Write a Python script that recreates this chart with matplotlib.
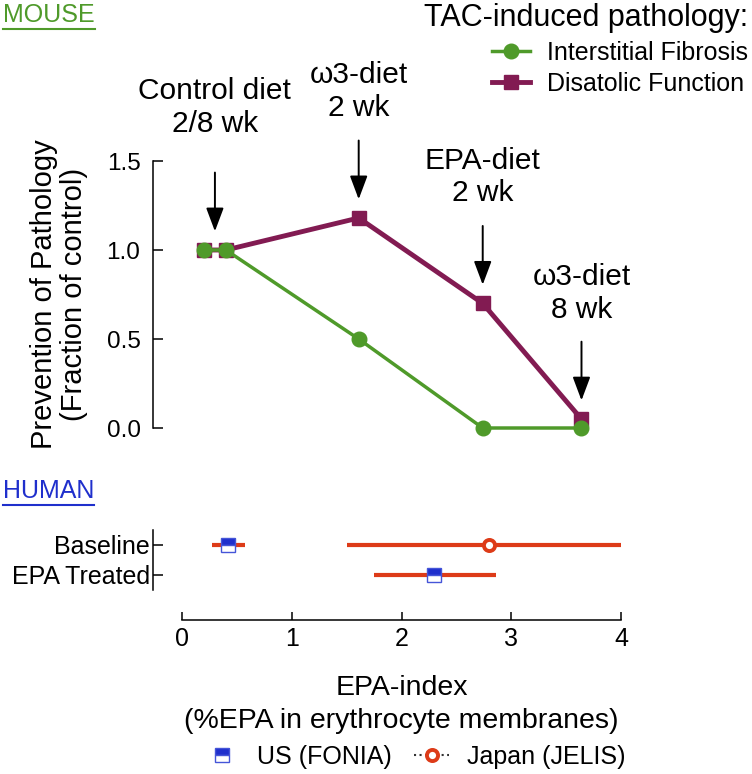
import matplotlib
matplotlib.use('Agg')
import matplotlib.pyplot as plt
from matplotlib.lines import Line2D

plt.rcParams['font.family'] = ['Liberation Sans', 'DejaVu Sans']

# mouse data (EPA-index vs fraction of control)
epa_mouse = [0.2, 0.4, 1.61, 2.74, 3.64]
fibrosis = [1.0, 1.0, 0.5, 0.0, 0.0]
diastolic = [1.0, 1.0, 1.18, 0.70, 0.05]

diet_labels = ['Control diet\n2/8 wk', 'ω3-diet\n2 wk', 'EPA-diet\n2 wk', 'ω3-diet\n8 wk']
diet_x = [0.3, 1.61, 2.74, 3.64]
diet_y = [1.0, 1.18, 0.70, 0.05]

# human data
groups = ['Baseline', 'EPA Treated']
us_mean = [0.42, 2.30]
us_low = [0.27, 1.75]
us_high = [0.57, 2.86]
jp_groups = ['Baseline']
jp_mean = [2.80]
jp_low = [1.50]
jp_high = [4.00]

green = '#4F9A2A'
purple = '#821B52'
red = '#DD3B18'
blue = '#1F2FCC'

W, H = 752, 774
fig = plt.figure(figsize=(W / 100, H / 100), dpi=100)

xl = (-0.2642, 4.2642)

# ---- mouse panel
ax1 = fig.add_axes([153 / W, 1 - 445.8 / H, 497 / W, 302.6 / H])
ax1.plot(epa_mouse, diastolic, color=purple, lw=3.5, marker='s', ms=10.5,
         label='Disatolic Function', zorder=3)
ax1.plot(epa_mouse, fibrosis, color=green, lw=2.5, marker='o', ms=10.5,
         label='Interstitial Fibrosis', zorder=4)
ax1.set_xlim(xl)
ax1.set_ylim(-0.1, 1.6)
ax1.set_yticks([0, 0.5, 1.0, 1.5])
ax1.set_yticklabels(['0.0', '0.5', '1.0', '1.5'])
ax1.spines[['top', 'right', 'bottom']].set_visible(False)
ax1.spines['left'].set_bounds(0, 1.5)
ax1.spines['left'].set_linewidth(1.1)
ax1.tick_params(axis='y', direction='in', length=7, width=1.1, pad=9, labelsize=17.5)
ax1.set_xticks([])
ax1.set_ylabel('Prevention of Pathology\n(Fraction of control)', fontsize=21,
               linespacing=1.1)
ax1.yaxis.set_label_coords(-0.13, 0.5)

text_y = [1.63, 1.72, 1.24, 0.585]
for lab, x, y, ty in zip(diet_labels, diet_x, diet_y, text_y):
    head = y + 0.105
    ax1.annotate('', xy=(x, head), xytext=(x, head + 0.33),
                 arrowprops=dict(arrowstyle='-|>,head_length=0.8,head_width=0.3',
                                 mutation_scale=18, color='black', lw=1.4,
                                 shrinkA=0, shrinkB=0))
    ax1.text(x, ty, lab, ha='center', va='bottom', fontsize=21.5,
             linespacing=1.2)

leg1 = fig.legend(handles=[ax1.lines[1], ax1.lines[0]],
                  labels=['Interstitial Fibrosis', 'Disatolic Function'],
                  title='TAC-induced pathology:', title_fontsize=22, fontsize=18,
                  loc='upper right', bbox_to_anchor=(748 / W, 1 - 3 / H),
                  frameon=False, alignment='right', handlelength=1.5,
                  handletextpad=0.7, labelspacing=0.3, borderpad=0,
                  borderaxespad=0)

# ---- human panel
ax2 = fig.add_axes([153 / W, 1 - 620 / H, 497 / W, 90 / H])
us_pos = [groups.index(g) for g in groups]
jp_pos = [groups.index(g) for g in jp_groups]
ax2.errorbar(us_mean, us_pos,
             xerr=[[m - l for m, l in zip(us_mean, us_low)],
                   [h - m for m, h in zip(us_mean, us_high)]],
             fmt='none', ecolor=red, elinewidth=3, capsize=0, zorder=2)
ax2.errorbar(jp_mean, jp_pos,
             xerr=[[m - l for m, l in zip(jp_mean, jp_low)],
                   [h - m for m, h in zip(jp_mean, jp_high)]],
             fmt='none', ecolor=red, elinewidth=3, capsize=0, zorder=2)
ax2.plot(us_mean, us_pos, ls='none', marker='s', ms=9.5, fillstyle='top',
         markerfacecolor=blue, markerfacecoloralt='white',
         markeredgecolor='#4555D8', mew=1.0, zorder=3)
ax2.plot(jp_mean, jp_pos, ls='none', marker='o', ms=8, markerfacecolor='white',
         markeredgecolor=red, mew=2.8, zorder=3)
ax2.set_xlim(xl)
ax2.set_ylim(2.5, -0.5)
ax2.set_yticks(range(len(groups)))
ax2.set_yticklabels(groups)
ax2.spines[['top', 'right']].set_visible(False)
ax2.spines['left'].set_bounds(-0.5, 1.5)
ax2.spines['bottom'].set_bounds(0, 4)
for s in ['left', 'bottom']:
    ax2.spines[s].set_linewidth(1.1)
ax2.tick_params(axis='y', direction='in', length=7, width=1.1, pad=2, labelsize=18)
ax2.set_xticks([0, 1, 2, 3, 4])
ax2.tick_params(axis='x', direction='in', length=6, width=1.1, pad=5, labelsize=18)
ax2.set_xlabel('EPA-index\n(%EPA in erythrocyte membranes)', fontsize=20.5,
               labelpad=17, linespacing=1.35)

h_us = Line2D([], [], ls='none', marker='s', ms=9.5, fillstyle='top',
              markerfacecolor=blue, markerfacecoloralt='white',
              markeredgecolor='#4555D8', mew=1.0)
h_jp = Line2D([], [], ls=':', color='#333333', lw=1.5, marker='o', ms=8,
              markerfacecolor='white', markeredgecolor=red, mew=2.8)
fig.legend(handles=[h_us, h_jp], labels=['US (FONIA)', 'Japan (JELIS)'],
           loc='center', bbox_to_anchor=(415 / W, 1 - 757 / H), ncol=2,
           frameon=False, fontsize=18, handlelength=1.4, handletextpad=0.7,
           columnspacing=0.9, borderpad=0)

# ---- underlined panel headers
t_m = fig.text(3 / W, 1 - 15 / H, 'MOUSE', color=green, fontsize=18,
               ha='left', va='center')
t_h = fig.text(3 / W, 1 - 491 / H, 'HUMAN', color=blue, fontsize=18,
               ha='left', va='center')
fig.canvas.draw()
for t, col in [(t_m, green), (t_h, blue)]:
    bb = t.get_window_extent()
    y = (bb.y0 - 2) / H
    fig.add_artist(Line2D([bb.x0 / W, bb.x1 / W], [y, y], color=col, lw=1.5))

fig.savefig('out.png', dpi=100)
